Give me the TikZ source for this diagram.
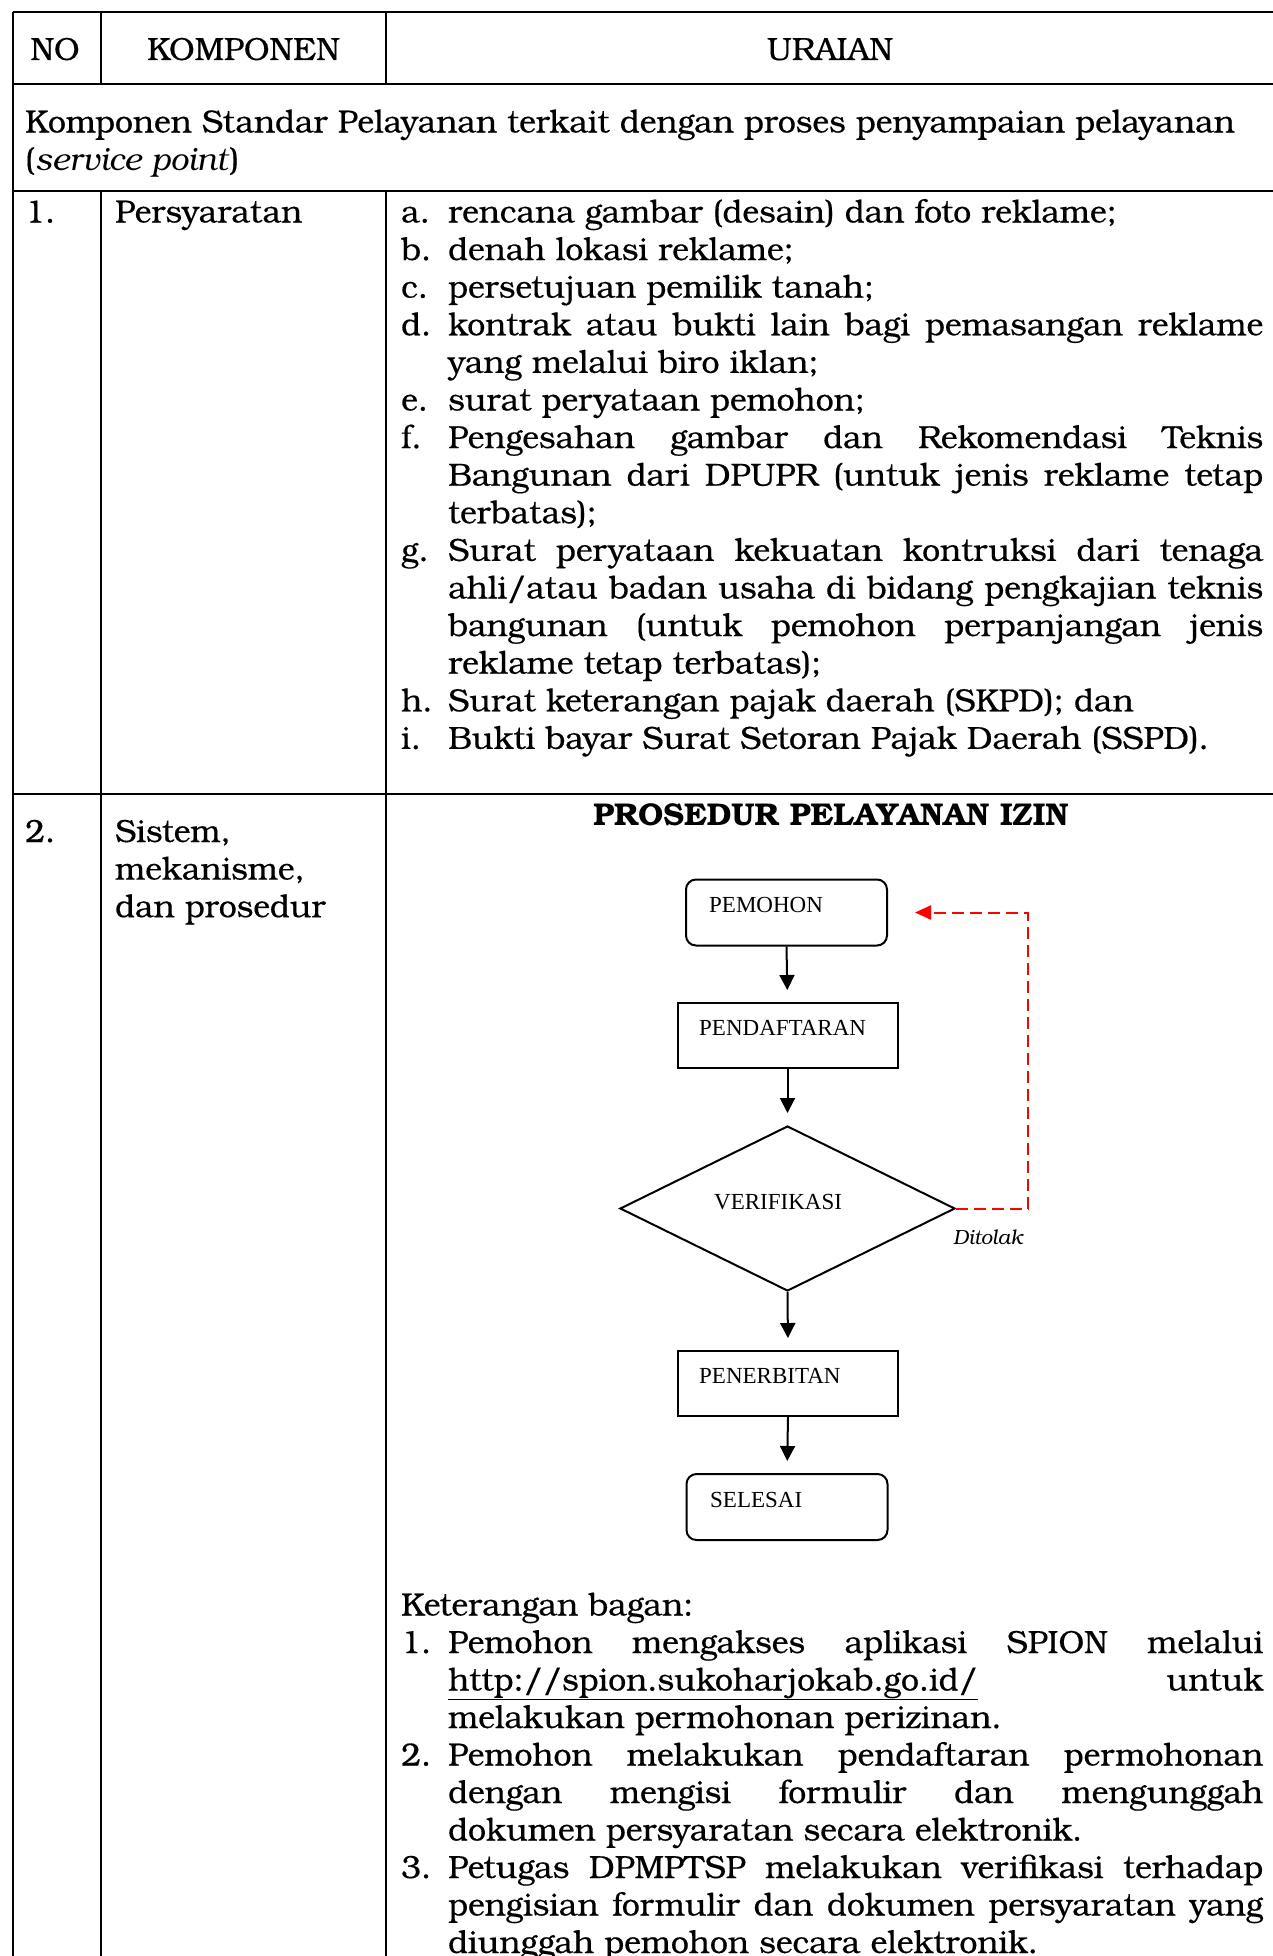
\documentclass[tikz,border=0pt]{standalone}
\usepackage{fontspec}
\setmainfont{texgyrebonum}[Extension=.otf,UprightFont=*-regular,BoldFont=*-bold,ItalicFont=*-italic,BoldItalicFont=*-bolditalic,UprightFeatures={FakeBold=0.4}]
\newfontfamily\boxfont{Liberation Serif}
\usetikzlibrary{arrows.meta,shapes.geometric}

\newcommand\bodysize{\fontsize{32}{37.6}\selectfont}
% a justified line of an enumerated item (item text column width)
\newcommand\jline[1]{\makebox[815pt][s]{#1}}

\begin{document}
\begin{tikzpicture}[x=1pt,y=-1pt,
  rule/.style={line width=2pt},
  txt/.style={anchor=base west,inner sep=0pt,font=\bodysize,yshift=-2.5pt},
  ctxt/.style={anchor=base,inner sep=0pt,font=\bodysize,yshift=-2pt},
  lbl/.style={anchor=base west,inner sep=0pt,font=\boxfont\fontsize{23}{27}\selectfont},
  sqbox/.style={draw,line width=2pt,minimum width=220pt,minimum height=65pt,inner sep=0pt},
  rdbox/.style={draw,line width=2pt,rounded corners=10pt,minimum width=201pt,minimum height=66pt,inner sep=0pt},
  decision/.style={draw,line width=2pt,diamond,minimum width=335pt,minimum height=165pt,inner sep=0pt},
  flow/.style={line width=2pt,-{Triangle[length=15pt,width=15pt]},shorten >=12pt},
  reject/.style={line width=2pt,red,dash pattern=on 12pt off 6pt,-{Triangle[length=16pt,width=14pt]},shorten >=27pt}
]
\useasboundingbox (0,0) rectangle (1273,1956);
\clip (0,0) rectangle (1273,1956);

% table rules
\draw[rule] (12.5,12) -- (1290,12);
\draw[rule] (12.5,84) -- (1290,84);
\draw[rule] (12.5,191) -- (1290,191);
\draw[rule] (12.5,794) -- (1290,794);
\draw[rule] (12.5,12) -- (12.5,1970);
\draw[rule] (101,12) -- (101,84);
\draw[rule] (386,12) -- (386,84);
\draw[rule] (101,191) -- (101,1970);
\draw[rule] (386,191) -- (386,1970);

% header row
\node[ctxt] (hno) at (55,58) {NO};
\node[ctxt] (hkomp) at (243.5,58) {KOMPONEN};
\node[ctxt] (hur) at (830,58) {URAIAN};

% section heading
\node[txt] (sec1) at (25,130) {Komponen Standar Pelayanan terkait dengan proses penyampaian pelayanan};
\node[txt] (sec2) at (25,167.6) {(\textit{service point})};

% row 1
\node[txt] (n1) at (25,220) {1.};
\node[txt] (k1) at (115,220) {Persyaratan};

\node[txt] (la) at (401,220) {a.};
\node[txt] (ta) at (448,220) {rencana gambar (desain) dan foto reklame;};
\node[txt] (lb) at (401,257.6) {b.};
\node[txt] (tb) at (448,257.6) {denah lokasi reklame;};
\node[txt] (lc) at (401,295.2) {c.};
\node[txt] (tc) at (448,295.2) {persetujuan pemilik tanah;};
\node[txt] (ld) at (401,332.8) {d.};
\node[txt] (td1) at (448,332.8) {\jline{kontrak atau bukti lain bagi pemasangan reklame}};
\node[txt] (td2) at (448,370.4) {yang melalui biro iklan;};
\node[txt] (le) at (401,408) {e.};
\node[txt] (te) at (448,408) {surat peryataan pemohon;};
\node[txt] (lf) at (401,445.6) {f.};
\node[txt] (tf1) at (448,445.6) {\jline{Pengesahan gambar dan Rekomendasi Teknis}};
\node[txt] (tf2) at (448,483.2) {\jline{Bangunan dari DPUPR (untuk jenis reklame tetap}};
\node[txt] (tf3) at (448,520.8) {terbatas);};
\node[txt] (lg) at (401,558.4) {g.};
\node[txt] (tg1) at (448,558.4) {\jline{Surat peryataan kekuatan kontruksi dari tenaga}};
\node[txt] (tg2) at (448,596) {\jline{ahli/atau badan usaha di bidang pengkajian teknis}};
\node[txt] (tg3) at (448,633.6) {\jline{bangunan (untuk pemohon perpanjangan jenis}};
\node[txt] (tg4) at (448,671.2) {reklame tetap terbatas);};
\node[txt] (lh) at (401,708.8) {h.};
\node[txt] (th) at (448,708.8) {Surat keterangan pajak daerah (SKPD); dan};
\node[txt] (li) at (401,746.4) {i.};
\node[txt] (ti) at (448,746.4) {Bukti bayar Surat Setoran Pajak Daerah (SSPD).};

% row 2
\node[txt] (n2) at (25,839.5) {2.};
\node[txt] (k2a) at (115,839.5) {Sistem,};
\node[txt] (k2b) at (115,877.1) {mekanisme,};
\node[txt] (k2c) at (115,914.7) {dan prosedur};

\node[anchor=base,inner sep=0pt,font=\fontsize{31.5}{36}\selectfont\bfseries] (title) at (831,825) {PROSEDUR PELAYANAN IZIN};

% flowchart
\node[rdbox] (pemohon) at (786.5,912.5) {};
\node[lbl] (pemohonT) at (709,912) {PEMOHON};
\node[sqbox] (daftar) at (787.5,1035.5) {};
\node[lbl] (daftarT) at (699,1035) {PENDAFTARAN};
\node[decision] (verif) at (787.5,1208.5) {};
\node[lbl] (verifT) at (714,1209) {VERIFIKASI};
\node[sqbox] (terbit) at (788,1383.5) {};
\node[lbl] (terbitT) at (699,1383) {PENERBITAN};
\node[rdbox] (selesai) at (787,1507) {};
\node[lbl] (selesaiT) at (710,1507) {SELESAI};

\draw[flow] (pemohon.south) -- (daftar.north);
\draw[flow] (daftar.south) -- (verif.north);
\draw[flow] (verif.south) -- (terbit.north);
\draw[flow] (terbit.south) -- (selesai.north);

\coordinate (retTop) at (1028,912.5);
\draw[reject] (verif.east) -| (retTop) -- (pemohon.east);
\node[anchor=base west,inner sep=0pt,font=\fontsize{20.5}{24}\selectfont\itshape] (ditolak) at (953,1244) {Ditolak};

% notes
\node[txt] (ket) at (401,1613) {Keterangan bagan:};
\node[txt] (m1) at (401,1650.5) {1.};
\node[txt] (s1a) at (448,1650.5) {\jline{Pemohon mengakses aplikasi SPION melalui}};
\node[txt] (s1b) at (448,1688) {\jline{\underline{http://spion.sukoharjokab.go.id/} untuk}};
\node[txt] (s1c) at (448,1725.5) {melakukan permohonan perizinan.};
\node[txt] (m2) at (401,1763) {2.};
\node[txt] (s2a) at (448,1763) {\jline{Pemohon melakukan pendaftaran permohonan}};
\node[txt] (s2b) at (448,1800.5) {\jline{dengan mengisi formulir dan mengunggah}};
\node[txt] (s2c) at (448,1838) {dokumen persyaratan secara elektronik.};
\node[txt] (m3) at (401,1875.5) {3.};
\node[txt] (s3a) at (448,1875.5) {\jline{Petugas DPMPTSP melakukan verifikasi terhadap}};
\node[txt] (s3b) at (448,1913) {\jline{pengisian formulir dan dokumen persyaratan yang}};
\node[txt] (s3c) at (448,1950.5) {diunggah pemohon secara elektronik.};
\end{tikzpicture}
\end{document}
